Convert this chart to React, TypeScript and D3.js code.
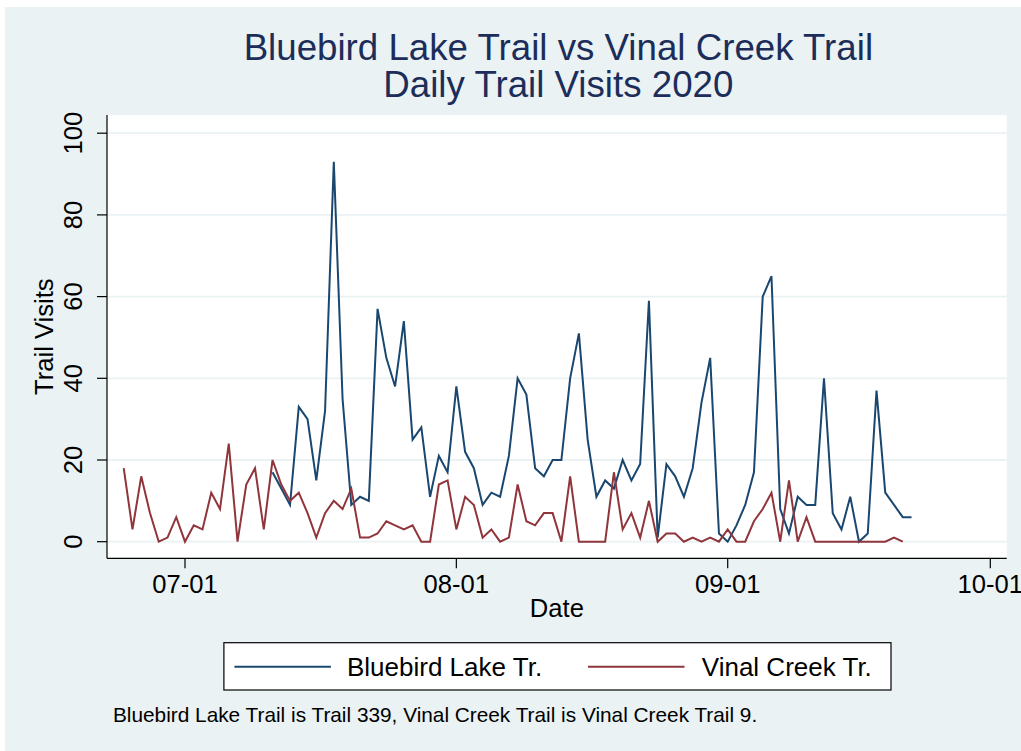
import React, { useEffect, useRef } from "react";
import * as d3 from "d3";

// ---- Data (daily trail visits, 2020) ----
const startDate = "2020-06-24";
const bluebirdStartOffset = 17; // Bluebird series begins 17 days after startDate
const bluebirdValues = [
  17, 13, 9, 33, 30, 15, 32, 93, 35, 9, 11, 10, 57, 45, 38, 54, 25, 28, 11, 21,
  17, 38, 22, 18, 9, 12, 11, 21, 40, 36, 18, 16, 20, 20, 40, 51, 25, 11, 15, 13,
  20, 15, 19, 59, 1, 19, 16, 11, 18, 34, 45, 2, 0, 4, 9, 17, 60, 65, 8, 2,
  11, 9, 9, 40, 7, 3, 11, 0, 2, 37, 12, 9, 6, 6,
];
const vinalValues = [
  18, 3, 16, 7, 0, 1, 6, 0, 4, 3, 12, 8, 24, 0, 14, 18, 3, 20, 14, 10,
  12, 7, 1, 7, 10, 8, 13, 1, 1, 2, 5, 4, 3, 4, 0, 0, 14, 15, 3, 11,
  9, 1, 3, 0, 1, 14, 5, 4, 7, 7, 0, 16, 0, 0, 0, 0, 17, 3, 7, 1,
  10, 0, 2, 2, 0, 1, 0, 1, 0, 3, 0, 0, 5, 8, 12, 0, 15, 0, 6, 0,
  0, 0, 0, 0, 0, 0, 0, 0, 1, 0,
];
const xTickDates = ["2020-07-01", "2020-08-01", "2020-09-01", "2020-10-01"];
const xTickLabels = ["07-01", "08-01", "09-01", "10-01"];
const yTicks = [0, 20, 40, 60, 80, 100];
const seriesNames = ["Bluebird Lake Tr.", "Vinal Creek Tr."];
const seriesColors = ["#1a476f", "#90353b"];
const titleLines = ["Bluebird Lake Trail vs Vinal Creek Trail", "Daily Trail Visits 2020"];
const xTitle = "Date";
const yTitle = "Trail Visits";
const note = "Bluebird Lake Trail is Trail 339, Vinal Creek Trail is Vinal Creek Trail 9.";

const W = 1021;
const H = 751;
const FONT = "'Liberation Sans', Arial, Helvetica, sans-serif";
const BG = "#eaf2f3";

type Pt = { date: Date; value: number };

function toSeries(values: number[], offset: number): Pt[] {
  const base = new Date(startDate + "T00:00:00Z");
  return values.map((v, i) => ({ date: d3.utcDay.offset(base, offset + i), value: v }));
}

export default function App() {
  const ref = useRef<SVGSVGElement | null>(null);

  useEffect(() => {
    document.body.style.margin = "0";
    const svg = d3.select(ref.current);
    svg.selectAll("*").remove();

    // page + graph background
    svg.append("rect").attr("x", 0).attr("y", 0).attr("width", W).attr("height", H).attr("fill", "#ffffff");
    svg.append("rect").attr("x", 5).attr("y", 7).attr("width", W - 5).attr("height", H - 7).attr("fill", BG);

    const plotLeft = 107;
    const plotRight = 1006.7;
    const plotTop = 115;
    const plotBottom = 558.3;

    const x = d3
      .scaleUtc()
      .domain([new Date("2020-07-01T00:00:00Z"), new Date("2020-10-01T00:00:00Z")])
      .range([185, 990.3]);
    const y = d3.scaleLinear().domain([0, 100]).range([541.7, 133.2]);

    // plot region
    svg
      .append("rect")
      .attr("x", plotLeft)
      .attr("y", plotTop)
      .attr("width", plotRight - plotLeft)
      .attr("height", plotBottom - plotTop)
      .attr("fill", "#ffffff");

    // gridlines
    svg
      .append("g")
      .selectAll("line")
      .data(yTicks)
      .join("line")
      .attr("x1", plotLeft)
      .attr("x2", plotRight)
      .attr("y1", (d) => y(d))
      .attr("y2", (d) => y(d))
      .attr("stroke", BG)
      .attr("stroke-width", 1.8);

    // series
    const series = [toSeries(bluebirdValues, bluebirdStartOffset), toSeries(vinalValues, 0)];
    const line = d3
      .line<Pt>()
      .x((d) => x(d.date))
      .y((d) => y(d.value));
    [0, 1].forEach((i) => {
      svg
        .append("path")
        .datum(series[i])
        .attr("d", line)
        .attr("fill", "none")
        .attr("stroke", seriesColors[i])
        .attr("stroke-width", 2)
        .attr("stroke-linejoin", "miter");
    });

    // axes lines
    svg
      .append("line")
      .attr("x1", plotLeft)
      .attr("x2", plotLeft)
      .attr("y1", plotTop)
      .attr("y2", plotBottom)
      .attr("stroke", "#000")
      .attr("stroke-width", 1.2);
    svg
      .append("line")
      .attr("x1", plotLeft)
      .attr("x2", plotRight)
      .attr("y1", plotBottom)
      .attr("y2", plotBottom)
      .attr("stroke", "#000")
      .attr("stroke-width", 1.2);

    // y ticks + labels
    const yg = svg.append("g");
    yg.selectAll("line")
      .data(yTicks)
      .join("line")
      .attr("x1", plotLeft - 10)
      .attr("x2", plotLeft)
      .attr("y1", (d) => y(d))
      .attr("y2", (d) => y(d))
      .attr("stroke", "#000")
      .attr("stroke-width", 1.2);
    yg.selectAll("text")
      .data(yTicks)
      .join("text")
      .attr("transform", (d) => `translate(81.7,${y(d)}) rotate(-90)`)
      .attr("text-anchor", "middle")
      .attr("font-family", FONT)
      .attr("font-size", 25.6)
      .attr("fill", "#000")
      .text((d) => String(d));

    // x ticks + labels
    const xg = svg.append("g");
    const tickDates = xTickDates.map((s) => new Date(s + "T00:00:00Z"));
    xg.selectAll("line")
      .data(tickDates)
      .join("line")
      .attr("x1", (d) => x(d))
      .attr("x2", (d) => x(d))
      .attr("y1", plotBottom)
      .attr("y2", plotBottom + 10)
      .attr("stroke", "#000")
      .attr("stroke-width", 1.2);
    xg.selectAll("text")
      .data(tickDates)
      .join("text")
      .attr("x", (d) => x(d))
      .attr("y", 593.3)
      .attr("text-anchor", "middle")
      .attr("font-family", FONT)
      .attr("font-size", 25.6)
      .attr("fill", "#000")
      .text((_, i) => xTickLabels[i]);

    // axis titles
    svg
      .append("text")
      .attr("x", (plotLeft + plotRight) / 2)
      .attr("y", 617.3)
      .attr("text-anchor", "middle")
      .attr("font-family", FONT)
      .attr("font-size", 25.6)
      .attr("fill", "#000")
      .text(xTitle);
    svg
      .append("text")
      .attr("transform", `translate(53.3,${(plotTop + plotBottom) / 2}) rotate(-90)`)
      .attr("text-anchor", "middle")
      .attr("font-family", FONT)
      .attr("font-size", 25.6)
      .attr("fill", "#000")
      .text(yTitle);

    // title
    const titleBaselines = [60, 97.3];
    titleLines.forEach((t, i) => {
      svg
        .append("text")
        .attr("x", (plotLeft + plotRight) / 2 + 1.5)
        .attr("y", titleBaselines[i])
        .attr("text-anchor", "middle")
        .attr("font-family", FONT)
        .attr("font-size", 36.7)
        .attr("fill", "#1c2d5a")
        .text(t);
    });

    // legend
    const lg = svg.append("g");
    lg.append("rect")
      .attr("x", 223.9)
      .attr("y", 642.7)
      .attr("width", 891 - 223.9)
      .attr("height", 690 - 642.7)
      .attr("fill", "#fff")
      .attr("stroke", "#000")
      .attr("stroke-width", 1.2);
    const legendLineX = [234.4, 588];
    const legendTextX = [347, 701.8];
    seriesNames.forEach((name, i) => {
      lg.append("line")
        .attr("x1", legendLineX[i])
        .attr("x2", legendLineX[i] + 96.5)
        .attr("y1", 666.7)
        .attr("y2", 666.7)
        .attr("stroke", seriesColors[i])
        .attr("stroke-width", 2);
      lg.append("text")
        .attr("x", legendTextX[i])
        .attr("y", 675.8)
        .attr("font-family", FONT)
        .attr("font-size", 26)
        .attr("fill", "#000")
        .text(name);
    });

    // note
    svg
      .append("text")
      .attr("x", 113)
      .attr("y", 721.5)
      .attr("font-family", FONT)
      .attr("font-size", 20.8)
      .attr("fill", "#000")
      .text(note);
  }, []);

  return (
    <svg
      ref={ref}
      width={W}
      height={H}
      style={{ position: "absolute", left: 0, top: 0, display: "block" }}
    />
  );
}
